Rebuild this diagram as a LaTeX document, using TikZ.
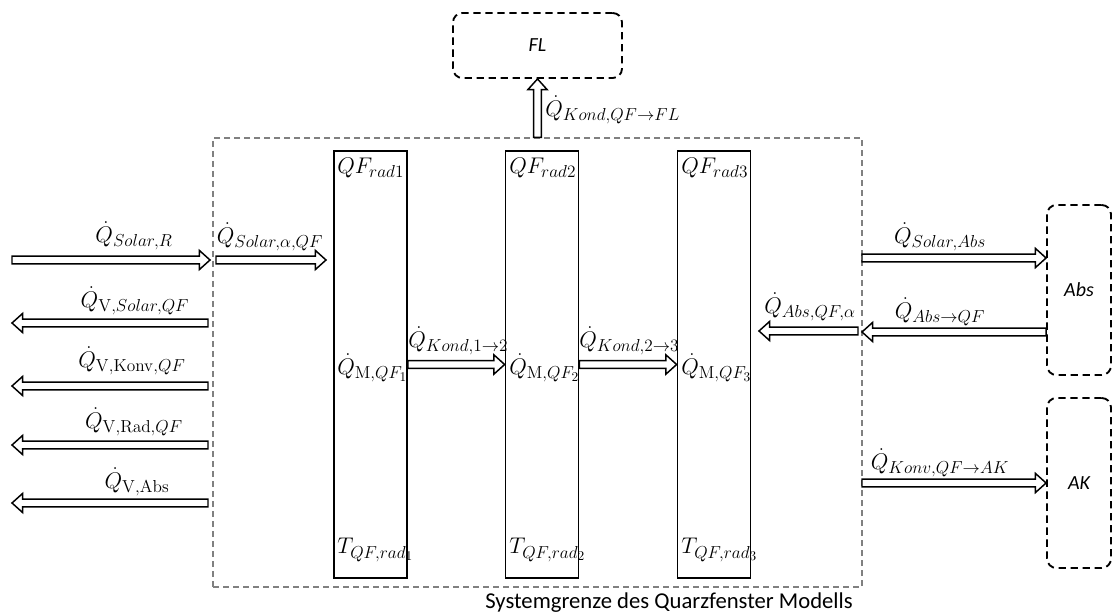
\RequirePackage{fix-cm}
\documentclass[tikz,border=0pt]{standalone}
\usepackage[no-math]{fontspec}
\setmainfont{Carlito}
\DeclareMathSizes{17}{17}{13}{10}
\usetikzlibrary{calc}

% hollow block arrow from anchor #1.#2 to anchor #3.#4
\newcommand\fsw{2.9pt}  % half shaft width
\newcommand\fhw{7.2pt}  % half head width
\newcommand\fhl{8pt}    % head length
\newcommand\fatarrow[4]{%
  \pgfpointanchor{#1}{#2}\pgfgetlastxy{\fax}{\fay}%
  \pgfpointanchor{#3}{#4}\pgfgetlastxy{\fbx}{\fby}%
  \pgfmathsetmacro\falen{veclen(\fbx-\fax,\fby-\fay)}%
  \pgfmathsetmacro\faang{atan2(\fby-\fay,\fbx-\fax)}%
  \draw[fatline,shift={(\fax,\fay)},rotate=\faang]
    (0pt,-\fsw) -- ({\falen pt-\fhl},-\fsw) -- ({\falen pt-\fhl},-\fhw)
    -- (\falen pt,0pt) -- ({\falen pt-\fhl},\fhw) -- ({\falen pt-\fhl},\fsw)
    -- (0pt,\fsw) -- cycle;}

\tikzset{
  sysb/.style={draw=black!50, dash pattern=on 4.5pt off 3pt, line width=1pt,
    minimum width=486.75pt, minimum height=336.75pt, inner sep=0pt},
  qfbox/.style={draw, line width=1.3pt, minimum width=54.75pt,
    minimum height=320.25pt, inner sep=0pt},
  ext/.style={draw, dash pattern=on 5.5pt off 3.5pt, line width=1.4pt,
    rounded corners=7pt, inner sep=0pt, font=\fontsize{15}{18}\selectfont\itshape},
  fatline/.style={draw, fill=white, line width=1.1pt, line join=miter},
  lbl/.style={inner sep=0pt, font=\fontsize{17}{20}\selectfont},
  captext/.style={inner sep=0pt, font=\fontsize{17}{20}\selectfont},
}

\begin{document}
\begin{tikzpicture}[x=0.75pt, y=-0.75pt]
\useasboundingbox (0,0) rectangle (1113,616);

% system boundary
\node[sysb] (sys) at (537.5,362.5) {};
\node[captext] (title) at (669,603) {Systemgrenze des Quarzfenster Modells};

% quartz window layers
\node[qfbox] (r1) at (370.5,364.5) {};
\node[qfbox] (r2) at (542,364.5) {};
\node[qfbox] (r3) at (714,364.5) {};

\foreach \i/\x in {1/337, 2/509, 3/681} {
  \node[lbl, anchor=west] (qf\i) at (\x,168) {$QF_{rad\i}$};
  \node[lbl, anchor=west] (qm\i) at (\x,368) {$\dot Q_{\mathrm{M},QF_\i}$};
  \node[lbl, anchor=west] (tq\i) at (\x,550) {$T_{QF,rad_\i}$};
}

% surrounding components
\node[ext, minimum width=126.75pt, minimum height=48.75pt] (FL) at (537.5,45.5) {FL};
\node[ext, minimum width=48pt, minimum height=127.5pt] (Abs) at (1079,290) {Abs};
\node[ext, minimum width=48pt, minimum height=127.5pt] (AK) at (1079,483) {AK};

% arrow end points
\coordinate (sr0) at (12,260);  \coordinate (sr1) at (210,260);
\coordinate (sq0) at (216,260); \coordinate (sq1) at (326,260);
\foreach \n/\y in {a/323, b/386, c/445, d/503} {
  \coordinate (v\n0) at (208,\y); \coordinate (v\n1) at (12,\y);
}
\coordinate (aq0) at (858,331);  \coordinate (aq1) at (759,331);
\coordinate (sa0) at (862,258);  \coordinate (sa1) at (Abs.west |- sa0);
\coordinate (ab0) at (Abs.west |- 0,332); \coordinate (ab1) at (862,332);
\coordinate (ka0) at (862,483);

% heat flows
\fatarrow{sys}{north}{FL}{south}
\fatarrow{sr0}{center}{sr1}{center}
\fatarrow{sq0}{center}{sq1}{center}
\fatarrow{va0}{center}{va1}{center}
\fatarrow{vb0}{center}{vb1}{center}
\fatarrow{vc0}{center}{vc1}{center}
\fatarrow{vd0}{center}{vd1}{center}
\fatarrow{r1}{east}{r2}{west}
\fatarrow{r2}{east}{r3}{west}
\fatarrow{aq0}{center}{aq1}{center}
\fatarrow{sa0}{center}{sa1}{center}
\fatarrow{ab0}{center}{ab1}{center}
\fatarrow{ka0}{center}{AK}{west}

% flow labels
\node[lbl, anchor=west] (lfl) at (545,110) {$\dot Q_{Kond,QF\to FL}$};
\node[lbl] (lsr) at (134,236) {$\dot Q_{Solar,R}$};
\node[lbl] (lsq) at (270,237) {$\dot Q_{Solar,\alpha,QF}$};
\node[lbl] (lva) at (135,301) {$\dot Q_{\mathrm{V},Solar,QF}$};
\node[lbl] (lvb) at (132,361) {$\dot Q_{\mathrm{V},\mathrm{Konv},QF}$};
\node[lbl] (lvc) at (134,422) {$\dot Q_{\mathrm{V},\mathrm{Rad},QF}$};
\node[lbl] (lvd) at (137,482) {$\dot Q_{\mathrm{V},\mathrm{Abs}}$};
\node[lbl, anchor=west] (lk1) at (408,341) {$\dot Q_{Kond,1\to2}$};
\node[lbl, anchor=west] (lk2) at (579,341) {$\dot Q_{Kond,2\to3}$};
\node[lbl] (laq) at (810,307) {$\dot Q_{Abs,QF,\alpha}$};
\node[lbl] (lsa) at (940,237) {$\dot Q_{Solar,Abs}$};
\node[lbl] (lab) at (940,312) {$\dot Q_{Abs\to QF}$};
\node[lbl] (lka) at (940,463) {$\dot Q_{Konv,QF\to AK}$};
\end{tikzpicture}
\end{document}
